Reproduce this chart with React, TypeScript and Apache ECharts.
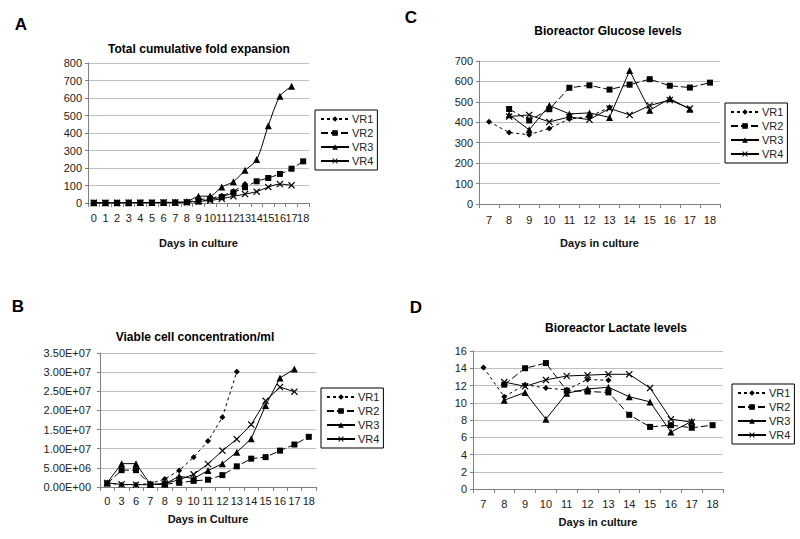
import React, { useEffect, useRef } from "react";
import * as echarts from "echarts";

const A_DAYS = ["0","1","2","3","4","5","6","7","8","9","10","11","12","13","14","15","16","17","18"];
const A_VR1 = [1, 1, 1, 2, 2, 2, 3, 4, 6, 18, 27, 42, 67, 108, null, null, null, null, null];
const A_VR2 = [1, 1, 1, 2, 2, 2, 3, 3, 4, 8, 22, 34, 60, 90, 124, 143, 166, 196, 238];
const A_VR3 = [1, 1, 1, 2, 3, 3, 3, 4, 8, 38, 40, 91, 122, 187, 248, 442, 610, 667, null];
const A_VR4 = [1, 1, 1, 2, 2, 2, 3, 3, 4, 10, 14, 25, 38, 51, 65, 91, 108, 101, null];

const B_DAYS = ["0","3","6","7","8","9","10","11","12","13","14","15","16","17","18"];
const B_VR1 = [1.05e6, 0.6e6, 0.6e6, 0.9e6, 2.1e6, 4.3e6, 7.8e6, 1.2e7, 1.82e7, 3.01e7, null, null, null, null, null];
const B_VR2 = [0.9e6, 4.4e6, 4.4e6, 0.6e6, 0.7e6, 1.1e6, 1.6e6, 1.9e6, 3.1e6, 5.4e6, 7.4e6, 7.8e6, 9.5e6, 1.11e7, 1.31e7];
const B_VR3 = [1.1e6, 6.1e6, 6.1e6, 0.7e6, 0.8e6, 2.8e6, 2.2e6, 4.3e6, 6.1e6, 9.1e6, 1.26e7, 2.13e7, 2.85e7, 3.08e7, null];
const B_VR4 = [1.05e6, 0.7e6, 0.6e6, 0.6e6, 0.9e6, 1.9e6, 3.3e6, 6.0e6, 9.5e6, 1.25e7, 1.63e7, 2.25e7, 2.61e7, 2.49e7, null];

const CD_DAYS = ["7","8","9","10","11","12","13","14","15","16","17","18"];
const C_VR1 = [403, 350, 339, 370, 416, 428, 474, null, null, null, null, null];
const C_VR2 = [null, 465, 409, 464, 569, 581, 560, 584, 611, 579, 570, 594];
const C_VR3 = [null, 437, 363, 482, 441, 446, 424, 653, 459, 516, 464, null];
const C_VR4 = [null, 428, 436, 402, 426, 413, 468, 436, 482, 509, 467, null];

const D_VR1 = [14.1, 10.7, 12.1, 11.7, 11.5, 12.7, 12.6, null, null, null, null, null];
const D_VR2 = [null, 12.1, 14.0, 14.6, 11.4, 11.3, 11.2, 8.6, 7.2, 7.4, 7.1, 7.4];
const D_VR3 = [null, 10.3, 11.2, 8.1, 11.1, 11.6, 11.8, 10.7, 10.1, 6.6, 7.85, null];
const D_VR4 = [null, 12.4, 11.9, 12.65, 13.1, 13.2, 13.3, 13.3, 11.7, 8.1, 7.75, null];

const SERIES_NAMES = ["VR1", "VR2", "VR3", "VR4"];

const FONT = "Liberation Sans, Arial, sans-serif";
const XMARK = "path://M0,1.2 L1.2,0 L5,3.8 L8.8,0 L10,1.2 L6.2,5 L10,8.8 L8.8,10 L5,6.2 L1.2,10 L0,8.8 L3.8,5 Z";

const STYLES: any = {
  VR1: { symbol: "diamond", symbolSize: 6, dash: [3, 3] },
  VR2: { symbol: "rect", symbolSize: 6, dash: [7, 3] },
  VR3: { symbol: "triangle", symbolSize: 7, dash: "solid" },
  VR4: { symbol: XMARK, symbolSize: 7, dash: "solid" },
};

function sci(v: number): string {
  if (v === 0) return "0.00E+00";
  const e = Math.floor(Math.log10(v) + 1e-9);
  const m = v / Math.pow(10, e);
  return `${m.toFixed(2)}E+${String(e).padStart(2, "0")}`;
}

function mkSeries(name: string, data: (number | null)[], idx: number, smooth = false) {
  const s = STYLES[name];
  return {
    type: "line",
    name,
    data,
    xAxisIndex: idx,
    yAxisIndex: idx,
    symbol: s.symbol,
    symbolSize: s.symbolSize,
    smooth: smooth ? 0.3 : false,
    showAllSymbol: true,
    lineStyle: { color: "#000", width: 1, type: s.dash },
    itemStyle: { color: "#000", borderWidth: 0 },
  };
}

function xAxis(idx: number, data: string[], name: string, nameGap: number, margin: number) {
  return {
    type: "category",
    gridIndex: idx,
    data,
    boundaryGap: true,
    name,
    nameLocation: "middle",
    nameGap,
    nameTextStyle: { fontFamily: FONT, fontSize: 11, fontWeight: "bold", color: "#111" },
    axisLine: { lineStyle: { color: "#808080", width: 1 } },
    axisTick: { show: true, length: 4, lineStyle: { color: "#808080" } },
    axisLabel: { fontFamily: FONT, fontSize: 11, color: "#222", margin, interval: 0 },
    splitLine: { show: false },
  };
}

function yAxis(idx: number, max: number, interval: number, fmt?: (v: number) => string, margin = 6) {
  return {
    type: "value",
    gridIndex: idx,
    min: 0,
    max,
    interval,
    axisLine: { show: true, lineStyle: { color: "#808080", width: 1 } },
    axisTick: { show: true, length: 3, lineStyle: { color: "#808080" } },
    axisLabel: { fontFamily: FONT, fontSize: 11, color: "#222", margin, formatter: fmt },
    splitLine: { show: true, lineStyle: { color: "#c0c0c0", width: 1 } },
  };
}

function legend(left: number, top: number) {
  return {
    show: true,
    orient: "vertical",
    left,
    top,
    data: SERIES_NAMES,
    itemWidth: 28,
    itemHeight: 7,
    itemGap: 2,
    padding: [3, 4, 3, 5],
    borderColor: "#000",
    borderWidth: 1,
    backgroundColor: "#fff",
    selectedMode: false,
    textStyle: { fontFamily: FONT, fontSize: 11, color: "#222", lineHeight: 12, padding: [0, 0, 0, -2] },
  };
}

function txt(x: number, y: number, text: string, size: number) {
  return {
    type: "text",
    x,
    y,
    style: {
      text,
      fontFamily: FONT,
      fontSize: size,
      fontWeight: "bold",
      fill: "#000",
      textAlign: "center",
      textVerticalAlign: "middle",
    },
  };
}

export default function App() {
  const ref = useRef<HTMLDivElement>(null);
  useEffect(() => {
    if (!ref.current) return;
    const chart = echarts.init(ref.current, undefined, { renderer: "svg" });
    const option: any = {
      animation: false,
      backgroundColor: "#fff",
      textStyle: { fontFamily: FONT },
      grid: [
        { left: 88, top: 63, width: 221, height: 140, containLabel: false },
        { left: 100, top: 353, width: 216, height: 134, containLabel: false },
        { left: 479, top: 61, width: 241, height: 143, containLabel: false },
        { left: 473, top: 351, width: 250, height: 138, containLabel: false },
      ],
      xAxis: [
        xAxis(0, A_DAYS, "Days in culture", 34, 9),
        xAxis(1, B_DAYS, "Days in Culture", 26, 8),
        xAxis(2, CD_DAYS, "Days in culture", 33, 10),
        xAxis(3, CD_DAYS, "Days in culture", 27, 9),
      ],
      yAxis: [
        yAxis(0, 800, 100),
        yAxis(1, 3.5e7, 5e6, sci, 9),
        yAxis(2, 700, 100),
        yAxis(3, 16, 2),
      ],
      legend: [legend(315, 110), legend(321, 388), legend(725, 103), legend(732, 384)],
      graphic: [
        txt(21, 24, "A", 17),
        txt(18, 306, "B", 17),
        txt(411, 17, "C", 17),
        txt(416, 307, "D", 17),
        txt(199, 49, "Total cumulative fold expansion", 12),
        txt(195, 337, "Viable cell concentration/ml", 12),
        txt(608, 31, "Bioreactor Glucose levels", 12),
        txt(616, 328, "Bioreactor Lactate levels", 12),
      ],
      series: [
        mkSeries("VR1", A_VR1, 0, true),
        mkSeries("VR2", A_VR2, 0, true),
        mkSeries("VR3", A_VR3, 0, true),
        mkSeries("VR4", A_VR4, 0, true),
        mkSeries("VR1", B_VR1, 1),
        mkSeries("VR2", B_VR2, 1),
        mkSeries("VR3", B_VR3, 1),
        mkSeries("VR4", B_VR4, 1),
        mkSeries("VR1", C_VR1, 2),
        mkSeries("VR2", C_VR2, 2),
        mkSeries("VR3", C_VR3, 2),
        mkSeries("VR4", C_VR4, 2),
        mkSeries("VR1", D_VR1, 3),
        mkSeries("VR2", D_VR2, 3),
        mkSeries("VR3", D_VR3, 3),
        mkSeries("VR4", D_VR4, 3),
      ],
    };
    chart.setOption(option);
    return () => chart.dispose();
  }, []);
  return (
    <div
      ref={ref}
      style={{ position: "fixed", left: 0, top: 0, width: 800, height: 539, background: "#fff" }}
    />
  );
}
